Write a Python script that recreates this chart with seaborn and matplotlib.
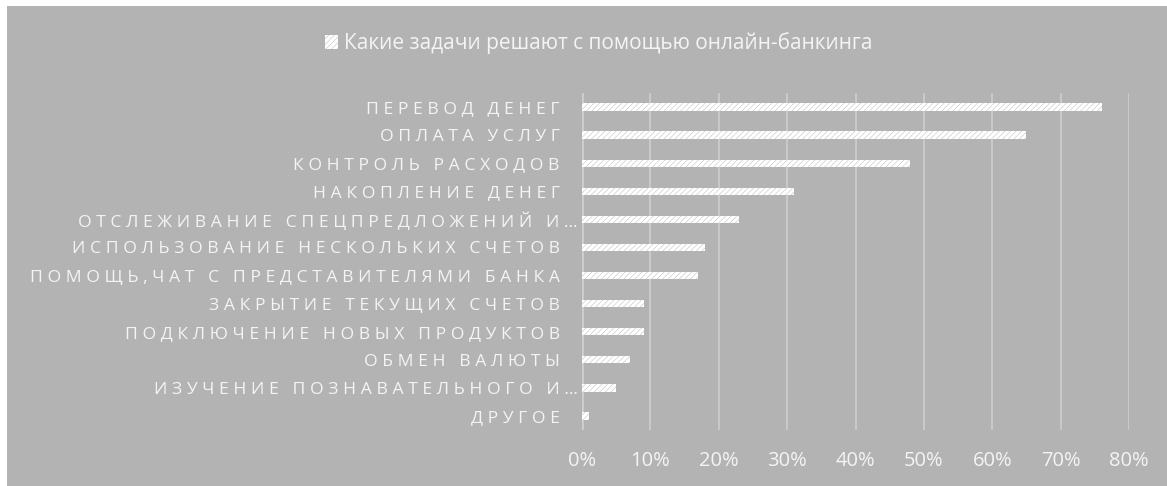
import seaborn as sns
import numpy as np
import pandas as pd
import matplotlib.pyplot as plt
from matplotlib.patches import Patch, Rectangle
from matplotlib.ticker import PercentFormatter
from matplotlib.transforms import ScaledTranslation

# data
tasks = ['ПЕРЕВОД ДЕНЕГ', 'ОПЛАТА УСЛУГ', 'КОНТРОЛЬ РАСХОДОВ', 'НАКОПЛЕНИЕ ДЕНЕГ',
         'ОТСЛЕЖИВАНИЕ СПЕЦПРЕДЛОЖЕНИЙ И…', 'ИСПОЛЬЗОВАНИЕ НЕСКОЛЬКИХ СЧЕТОВ',
         'ПОМОЩЬ,ЧАТ С ПРЕДСТАВИТЕЛЯМИ БАНКА', 'ЗАКРЫТИЕ ТЕКУЩИХ СЧЕТОВ',
         'ПОДКЛЮЧЕНИЕ НОВЫХ ПРОДУКТОВ', 'ОБМЕН ВАЛЮТЫ',
         'ИЗУЧЕНИЕ ПОЗНАВАТЕЛЬНОГО И…', 'ДРУГОЕ']
share = [0.76, 0.65, 0.48, 0.31, 0.23, 0.18, 0.17, 0.09, 0.09, 0.07, 0.05, 0.01]
series_name = 'Какие задачи решают с помощью онлайн-банкинга'

BG = '#b3b3b3'
TXT = '#f4f4f4'
GRID = '#c9c9c9'

sns.set_style('white')
plt.rcParams['font.family'] = ['Open Sans', 'DejaVu Sans']
plt.rcParams['hatch.linewidth'] = 2.5


def spaced(s):
    # fake letter spacing
    return '\u2009\u200a'.join(s)


df = pd.DataFrame({'task': [spaced(t) for t in tasks], 'share': share})

fig = plt.figure(figsize=(11.67, 4.86), dpi=100)
fig.patch.set_facecolor('white')
fig.patches.append(Rectangle((7 / 1167, 0), 1, 1 - 6 / 486, transform=fig.transFigure,
                             facecolor=BG, edgecolor='none', zorder=-10))
ax = fig.add_axes([582 / 1167, 56 / 486, 547 / 1167, 337 / 486])
ax.set_facecolor(BG)

sns.barplot(data=df, x='share', y='task', orient='h', ax=ax, width=0.26,
            color=BG, edgecolor='white', linewidth=0, hatch='//////', zorder=3)

ax.set_xlim(0, 0.8)
ax.set_xticks(np.arange(0, 0.81, 0.1))
ax.xaxis.set_major_formatter(PercentFormatter(1, decimals=0))
ax.grid(axis='x', color=GRID, linewidth=1.5, zorder=0)
ax.grid(axis='y', visible=False)
for s in ax.spines.values():
    s.set_visible(False)
ax.axvline(0, color='#cfcfcf', linewidth=2, zorder=1)
ax.set_xlabel('')
ax.set_ylabel('')
ax.tick_params(axis='x', length=0, pad=15, labelsize=14.5, labelcolor=TXT)
ax.tick_params(axis='y', length=0, pad=16, labelsize=12.6, labelcolor=TXT)

# truncated labels overflow past the right edge in the original
for lab in ax.get_yticklabels():
    if lab.get_text().endswith('…'):
        lab.set_transform(lab.get_transform() + ScaledTranslation(0.18, 0, fig.dpi_scale_trans))

handle = Patch(facecolor=BG, edgecolor='white', linewidth=0, hatch='//////')
fig.legend([handle], [series_name], loc='center', bbox_to_anchor=(0.513, 0.911),
           frameon=False, fontsize=15, labelcolor=TXT, handlelength=0.65,
           handleheight=0.65, handletextpad=0.3)

fig.savefig('out.png', dpi=100, facecolor=fig.get_facecolor())
